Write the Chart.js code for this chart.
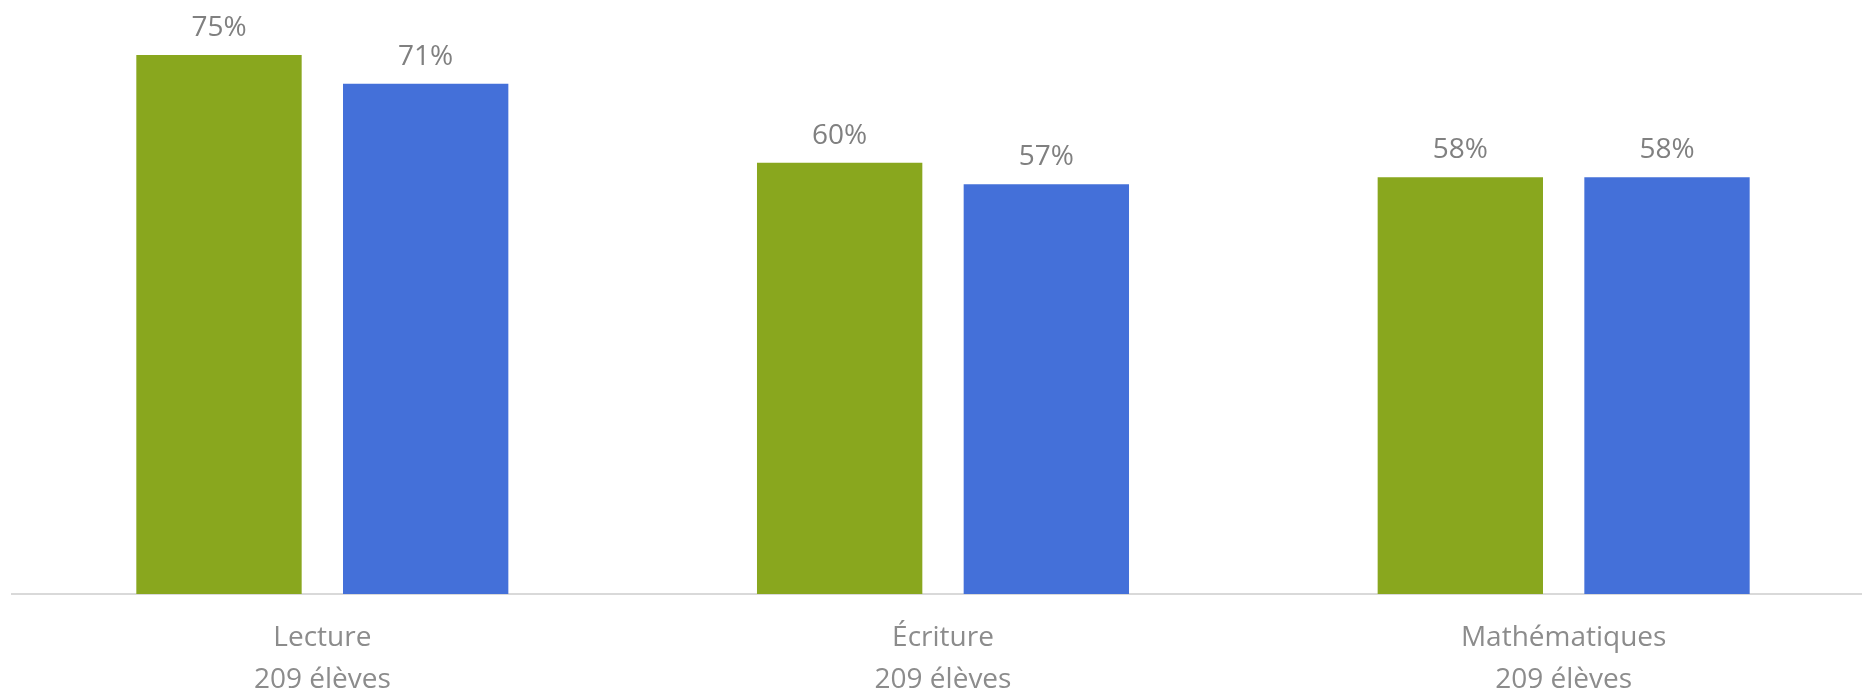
<!DOCTYPE html>
<html lang="fr">
<head>
<meta charset="utf-8">
<title>Résultats par matière</title>
<script src="https://cdn.jsdelivr.net/npm/chart.js@4"></script>
<style>
    html, body { margin: 0; padding: 0; background: #fff; overflow: hidden; }
    #wrap { position: relative; width: 1874px; height: 716px; }
</style>
</head>
<body>
<div id="wrap"><canvas id="resultsChart"></canvas></div>
<script>
// --- Data ---
const subjects = ['Lecture', 'Écriture', 'Mathématiques'];
const studentCounts = ['209 élèves', '209 élèves', '209 élèves'];
const seriesA = [0.75, 0.60, 0.58]; // green
const seriesB = [0.71, 0.57, 0.58]; // blue

const labels = subjects.map((s, i) => [s, studentCounts[i]]);

// Draw the percentage above each bar
const valueLabels = {
    id: 'valueLabels',
    afterDatasetsDraw(chart) {
        const ctx = chart.ctx;
        ctx.save();
        ctx.font = "28px 'Open Sans', sans-serif";
        ctx.fillStyle = '#808080';
        ctx.textAlign = 'center';
        ctx.textBaseline = 'middle';
        chart.data.datasets.forEach((ds, di) => {
            chart.getDatasetMeta(di).data.forEach((bar, i) => {
                ctx.fillText(Math.round(ds.data[i] * 100) + '%', bar.x, bar.y - 27);
            });
        });
        ctx.restore();
    }
};

const ctx = document.getElementById('resultsChart').getContext('2d');
new Chart(ctx, {
    type: 'bar',
    data: {
        labels: labels,
        datasets: [
            {
                label: 'Série 1',
                data: seriesA,
                backgroundColor: '#89A71E',
                barPercentage: 0.8,
                categoryPercentage: 0.666
            },
            {
                label: 'Série 2',
                data: seriesB,
                backgroundColor: '#4470D9',
                barPercentage: 0.8,
                categoryPercentage: 0.666
            }
        ]
    },
    options: {
        responsive: true,
        maintainAspectRatio: false,
        animation: false,
        layout: { padding: { top: 19, left: 12, right: 0, bottom: 0 } },
        scales: {
            x: {
                grid: { display: false },
                border: { display: true, color: '#d9d9d9', width: 2 },
                ticks: {
                    color: '#8c8c8c',
                    padding: 15,
                    font: { family: "'Open Sans', sans-serif", size: 28, lineHeight: 1.5 }
                }
            },
            y: {
                display: false,
                min: 0,
                max: 0.8
            }
        },
        plugins: {
            legend: { display: false },
            tooltip: { enabled: false }
        }
    },
    plugins: [valueLabels]
});
</script>
</body>
</html>
